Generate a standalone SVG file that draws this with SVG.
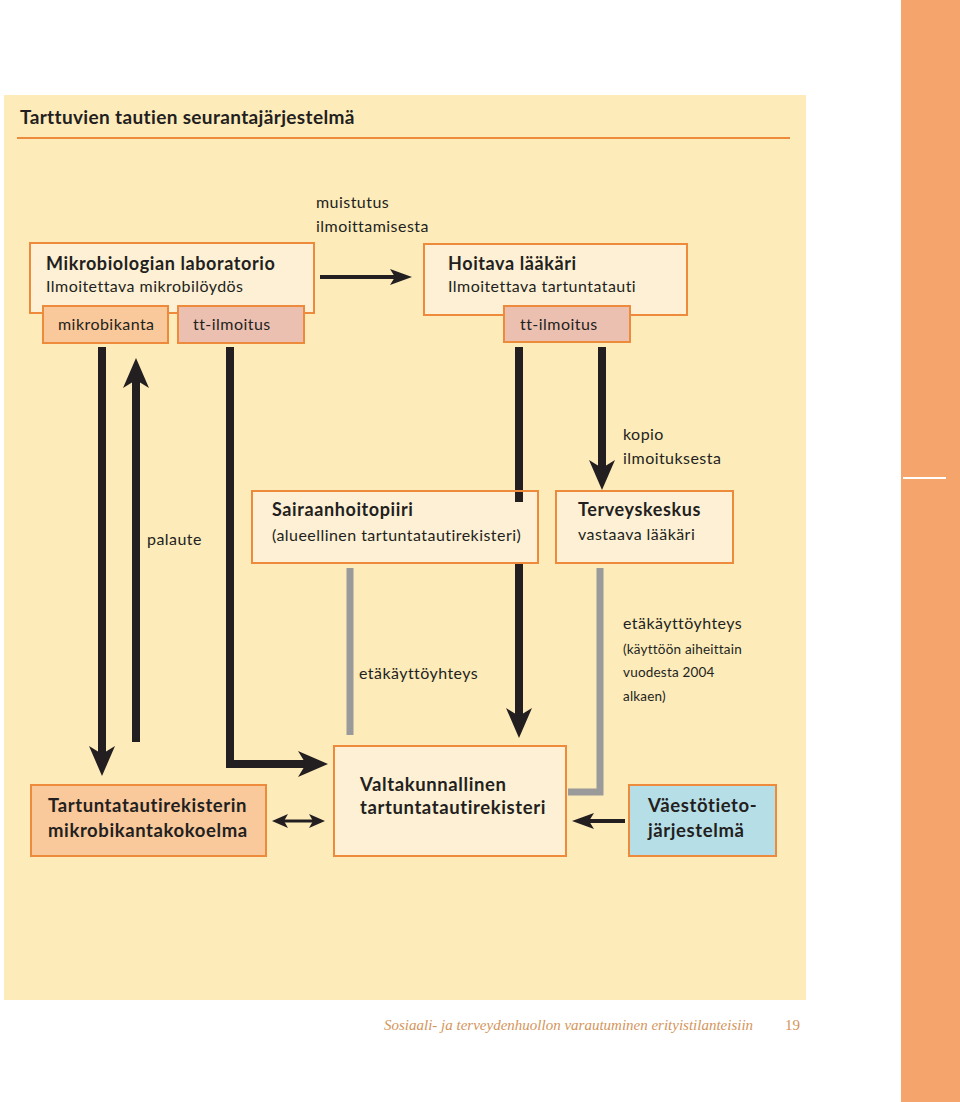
<svg xmlns="http://www.w3.org/2000/svg" width="960" height="1102" viewBox="0 0 960 1102">
<defs>
<style>
.t{font-family:Lato,"Liberation Sans",sans-serif;fill:#231F20}
.n15{font-size:16px;letter-spacing:0.45px}
.n13{font-size:13.5px;letter-spacing:0.2px}
.h16{font-size:18px;font-weight:bold;letter-spacing:0.6px}
.h17{font-size:18.5px;font-weight:bold;letter-spacing:0.6px}
.box{fill:#FDF0D4;stroke:#EE8A3C;stroke-width:2}
.peach{fill:#F9C89B;stroke:#EE8A3C;stroke-width:2}
.pink{fill:#ECC0B1;stroke:#EE8A3C;stroke-width:2}
.blue{fill:#B6DEE7;stroke:#EE8A3C;stroke-width:2}
.blk{fill:none;stroke:#231F20;stroke-width:8}
.gry{fill:none;stroke:#9A9A9A;stroke-width:7}
.thin{fill:none;stroke:#231F20;stroke-width:4}
</style>
<marker id="ah" viewBox="0 0 30 26" refX="10" refY="13" markerUnits="userSpaceOnUse" markerWidth="30" markerHeight="26" orient="auto"><path d="M0,0 L30,13 L0,26 L8,13 Z" fill="#231F20"/></marker>
<marker id="am" viewBox="0 0 22 16" refX="6" refY="8" markerUnits="userSpaceOnUse" markerWidth="22" markerHeight="16" orient="auto"><path d="M0,0 L22,8 L0,16 L5,8 Z" fill="#231F20"/></marker>
<marker id="as" viewBox="0 0 16 14" refX="5" refY="7" markerUnits="userSpaceOnUse" markerWidth="16" markerHeight="14" orient="auto-start-reverse"><path d="M0,0 L16,7 L0,14 L4,7 Z" fill="#231F20"/></marker>
</defs>

<rect x="0" y="0" width="960" height="1102" fill="#FFFFFF"/>
<rect x="901" y="0" width="59" height="1102" fill="#F5A56C"/>
<line x1="903" y1="478" x2="946" y2="478" stroke="#FFFFFF" stroke-width="2"/>
<rect x="4" y="95" width="802" height="905" fill="#FDEBBA"/>

<text x="20" y="124" class="t" font-size="19" font-weight="bold" letter-spacing="0.35">Tarttuvien tautien seurantajärjestelmä</text>
<line x1="17" y1="138" x2="790" y2="138" stroke="#EE8A3C" stroke-width="2"/>

<g id="connectors">
<line x1="320" y1="277" x2="396" y2="277" class="thin" marker-end="url(#am)"/>
<text x="316" y="208" class="t n15">muistutus</text>
<text x="316" y="232" class="t n15">ilmoittamisesta</text>
<line x1="102" y1="347" x2="102" y2="756" class="blk" marker-end="url(#ah)"/>
<line x1="136" y1="742" x2="136" y2="378" class="blk" marker-end="url(#ah)"/>
<text x="147" y="545" class="t n15">palaute</text>
<polyline points="230,347 230,764 308,764" class="blk" marker-end="url(#ah)"/>
<line x1="519" y1="347" x2="519" y2="502" class="blk"/>
<line x1="519" y1="553" x2="519" y2="718" class="blk" marker-end="url(#ah)"/>
<line x1="602" y1="347" x2="602" y2="470" class="blk" marker-end="url(#ah)"/>
<text x="623" y="440" class="t n15">kopio</text>
<text x="623" y="464" class="t n15">ilmoituksesta</text>
<line x1="350" y1="568" x2="350" y2="735" class="gry"/>
<text x="359" y="679" class="t n15">etäkäyttöyhteys</text>
<polyline points="600,568 600,792 568,792" class="gry"/>
<text x="623" y="629" class="t n15">etäkäyttöyhteys</text>
<text x="623" y="654" class="t n13">(käyttöön aiheittain</text>
<text x="623" y="677" class="t n13">vuodesta 2004</text>
<text x="623" y="701" class="t n13">alkaen)</text>
<line x1="283" y1="821" x2="314" y2="821" stroke="#231F20" stroke-width="3" marker-start="url(#as)" marker-end="url(#as)"/>
<line x1="625" y1="821" x2="588" y2="821" class="thin" marker-end="url(#am)"/>
</g>

<g id="n-mikrobiologia">
<rect x="30" y="243" width="284" height="70" class="box"/>
<text x="46" y="270" class="t h16">Mikrobiologian laboratorio</text>
<text x="46" y="292" class="t n15">Ilmoitettava mikrobilöydös</text>
</g>
<g id="n-mikrobikanta">
<rect x="43" y="306" width="125" height="37" class="peach"/>
<text x="58" y="330" class="t n15">mikrobikanta</text>
</g>
<g id="n-tt1">
<rect x="178" y="306" width="126" height="37" class="pink"/>
<text x="193" y="330" class="t n15">tt-ilmoitus</text>
</g>
<g id="n-hoitava">
<rect x="424" y="244" width="263" height="71" class="box"/>
<text x="448" y="270" class="t h16">Hoitava lääkäri</text>
<text x="448" y="292" class="t n15">Ilmoitettava tartuntatauti</text>
</g>
<g id="n-tt2">
<rect x="504" y="306" width="126" height="36" class="pink"/>
<text x="520" y="330" class="t n15">tt-ilmoitus</text>
</g>
<g id="n-sairaanhoitopiiri">
<rect x="252" y="491" width="286" height="72" class="box"/>
<text x="272" y="516" class="t h16">Sairaanhoitopiiri</text>
<text x="272" y="541" class="t n15">(alueellinen tartuntatautirekisteri)</text>
</g>
<line x1="519" y1="492" x2="519" y2="502" class="blk"/>
<g id="n-terveyskeskus">
<rect x="556" y="491" width="177" height="72" class="box"/>
<text x="578" y="516" class="t h16">Terveyskeskus</text>
<text x="578" y="540" class="t n15">vastaava lääkäri</text>
</g>
<g id="n-valtakunnallinen">
<rect x="334" y="746" width="232" height="110" class="box"/>
<text x="360" y="791" class="t h17">Valtakunnallinen</text>
<text x="360" y="814" class="t h17">tartuntatautirekisteri</text>
</g>
<g id="n-kokoelma">
<rect x="31" y="785" width="235" height="71" class="peach"/>
<text x="48" y="812" class="t h17">Tartuntatautirekisterin</text>
<text x="48" y="837" class="t h17">mikrobikantakokoelma</text>
</g>
<g id="n-vaesto">
<rect x="629" y="785" width="147" height="71" class="blue"/>
<text x="648" y="812" class="t h17">Väestötieto-</text>
<text x="648" y="837" class="t h17">järjestelmä</text>
</g>

<text x="384" y="1030" font-family="'Liberation Serif',serif" font-style="italic" font-size="15" fill="#D4955A">Sosiaali- ja terveydenhuollon varautuminen erityistilanteisiin</text>
<text x="785" y="1030" font-family="'Liberation Serif',serif" font-size="15" fill="#D4955A">19</text>
</svg>
